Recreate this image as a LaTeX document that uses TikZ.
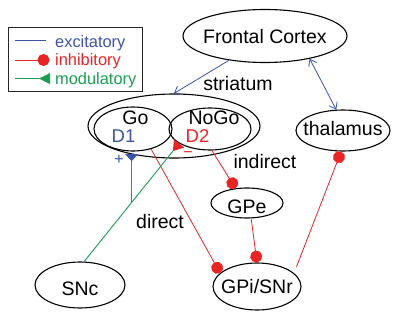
\documentclass[tikz,border=0pt]{standalone}
\usepackage{fontspec}
\setmainfont{Liberation Sans}
\usetikzlibrary{shapes.geometric,arrows.meta,calc}
\definecolor{exblue}{RGB}{58,84,168}
\definecolor{inred}{RGB}{232,36,36}
\definecolor{modgreen}{RGB}{28,158,82}
\begin{document}
\begin{tikzpicture}[x=1pt,y=-1pt,
  region/.style={ellipse, draw, line width=1.1pt, inner sep=0pt},
  lbl/.style={font=\fontsize{19.5}{20}\selectfont, inner sep=0pt, anchor=base},
  sublbl/.style={font=\fontsize{18.5}{20}\selectfont, inner sep=0pt, anchor=base},
  leg/.style={font=\fontsize{16.4}{18}\selectfont, inner sep=0pt, anchor=base west},
  excit/.style={exblue, line width=0.8pt},
  exbarb/.tip={Straight Barb[length=6pt,width=9pt]},
  inhib/.style={inred, line width=0.8pt, -{Circle[length=12pt,width=12pt]}},
  modul/.style={modgreen, line width=0.9pt},
]
\useasboundingbox (0,0) rectangle (400,327);
% legend
\node[draw, line width=1pt, draw=black!85, minimum width=134pt, minimum height=64.5pt, inner sep=0pt] (legbox) at (75.8,59.5) {};
\coordinate (lb1) at (15,40); \coordinate (le1) at (46,40);
\coordinate (lb2) at (15,60); \coordinate (le2) at (49.5,60);
\coordinate (lb3) at (15,78.5); \coordinate (le3) at (50,78.5);
\draw[excit] (lb1) -- (le1);
\draw[inhib] (lb2) -- (le2);
\coordinate (la3) at ($(le3)!11pt!(lb3)$);
\draw[modul] (lb3) -- (la3);
\fill[modgreen] (la3) -- ($(le3)!5.5pt!90:(lb3)$) -- ($(le3)!5.5pt!-90:(lb3)$) -- cycle;
\node[leg, text=exblue] (legex) at (55,47.5) {excitatory};
\node[leg, text=inred] (legin) at (55,65.7) {inhibitory};
\node[leg, text=modgreen] (legmod) at (55,84) {modulatory};
% regions
\node[region, minimum width=164pt, minimum height=53pt] (fc) at (265,36) {};
\node[region, minimum width=172pt, minimum height=64pt] (str) at (174,126) {};
\node[region, minimum width=78pt, minimum height=44pt] (go) at (133,129) {};
\node[region, minimum width=82pt, minimum height=42pt] (nogo) at (210,129) {};
\node[region, minimum width=94pt, minimum height=41pt] (thal) at (343,130.5) {};
\node[region, minimum width=72pt, minimum height=30pt] (gpe) at (247,203) {};
\node[region, minimum width=88pt, minimum height=47pt] (gpi) at (257,286.5) {};
\node[region, minimum width=90pt, minimum height=46pt] (snc) at (80,285) {};
% texts
\node[lbl] (fct) at (265,43.3) {Frontal Cortex};
\node[lbl] (gotxt) at (135.5,124.7) {Go};
\node[lbl] (nogotxt) at (214,124.7) {NoGo};
\node[sublbl, text=exblue] (d1) at (123.5,142) {D1};
\node[sublbl, text=inred] (d2) at (197.5,142) {D2};
\node[lbl] (strt) at (238,90) {striatum};
\node[lbl] (indt) at (265,168.3) {indirect};
\node[lbl] (thalt) at (343,135) {thalamus};
\node[lbl] (dirt) at (160,228.3) {direct};
\node[lbl] (gpet) at (247,213.3) {GPe};
\node[lbl] (gpit) at (257,293.5) {GPi/SNr};
\node[lbl] (snct) at (80,295.5) {SNc};
\node[font=\fontsize{16}{18}\selectfont, text=exblue, inner sep=0pt] (plus) at (119,160) {+};
\node[font=\fontsize{16}{18}\selectfont, text=inred, inner sep=0pt] (minus) at (188,155) {−};
% excitatory
\draw[excit, -{exbarb}] (fc.214) -- (str.north);
\draw[excit, {exbarb}-{exbarb}] (fc.333) -- (thal.108);
% inhibitory
\draw[inhib] (go.312) -- (gpi.160);
\draw[inhib] (nogo.-85) -- (gpe.128);
\draw[inhib] (gpe.-75) -- (gpi.north);
\coordinate (gpiR) at ($(gpi.30)+(9,-2)$);
\draw[inhib] (gpiR) -- (thal.-95);
% modulatory
\coordinate (j) at ($(snc.80)!0.5!(nogo.205)$);
\coordinate (t2) at (nogo.205);
\coordinate (a2) at ($(t2)!10pt!(snc.80)$);
\draw[modul] (snc.80) -- (a2);
\fill[inred] (a2) -- ($(t2)!6.5pt!90:(snc.80)$) -- ($(t2)!6.5pt!-90:(snc.80)$) -- cycle;
\coordinate (t1) at (j |- str.213);
\coordinate (a1) at ($(t1)!7pt!(j)$);
\draw[modul] (j) -- (a1);
\fill[exblue] (a1) -- ($(t1)!6.5pt!90:(j)$) -- ($(t1)!6.5pt!-90:(j)$) -- cycle;
\end{tikzpicture}
\end{document}
